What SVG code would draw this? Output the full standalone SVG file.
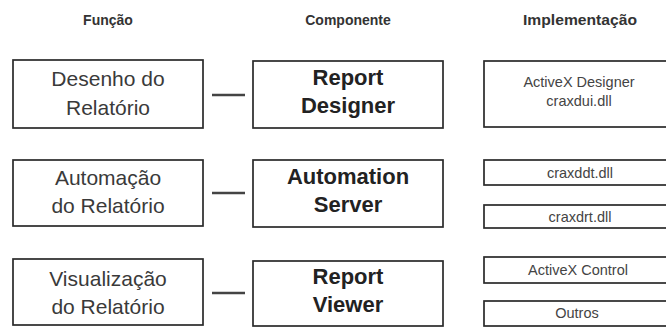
<svg xmlns="http://www.w3.org/2000/svg" width="666" height="327" viewBox="0 0 666 327">
<style>
.bx{fill:#fff;stroke:#2a2a2a;stroke-width:1.7}
.hd{font-family:"Liberation Sans",Arial,sans-serif;font-weight:bold;font-size:14px;fill:#333;text-anchor:middle}
.fn{font-family:"Liberation Sans",Arial,sans-serif;font-size:21px;fill:#3a3a3a;text-anchor:middle}
.cp{font-family:"Liberation Sans",Arial,sans-serif;font-weight:bold;font-size:22px;fill:#222;text-anchor:middle}
.im{font-family:"Liberation Sans",Arial,sans-serif;font-size:14.5px;fill:#444;text-anchor:middle}
.ln{stroke:#444;stroke-width:2.5}
</style>
<rect width="666" height="327" fill="#fff"/>
<g id="headers">
<text class="hd" x="108" y="25">Função</text>
<text class="hd" x="348" y="25">Componente</text>
<text class="hd" x="580" y="25" textLength="114" lengthAdjust="spacingAndGlyphs">Implementação</text>
</g>
<g id="fn1"><rect class="bx" x="13" y="60" width="190" height="68"/><text class="fn" x="108" y="86">Desenho do</text><text class="fn" x="108" y="115">Relatório</text></g>
<g id="cp1"><rect class="bx" x="253" y="61" width="190" height="67"/><text class="cp" x="348" y="85">Report</text><text class="cp" x="348" y="113">Designer</text></g>
<g id="im1"><rect class="bx" x="484" y="61" width="190" height="66"/><text class="im" x="579" y="87">ActiveX Designer</text><text class="im" x="579" y="106">craxdui.dll</text></g>
<g id="fn2"><rect class="bx" x="13" y="160" width="190" height="66"/><text class="fn" x="108" y="185">Automação</text><text class="fn" x="108" y="213">do Relatório</text></g>
<g id="cp2"><rect class="bx" x="253" y="160" width="190" height="67"/><text class="cp" x="348" y="184">Automation</text><text class="cp" x="348" y="212">Server</text></g>
<g id="im2a"><rect class="bx" x="484" y="160" width="190" height="25"/><text class="im" x="580" y="178">craxddt.dll</text></g>
<g id="im2b"><rect class="bx" x="484" y="205" width="190" height="23"/><text class="im" x="580" y="222">craxdrt.dll</text></g>
<g id="fn3"><rect class="bx" x="13" y="259" width="190" height="66"/><text class="fn" x="108" y="286">Visualização</text><text class="fn" x="108" y="314">do Relatório</text></g>
<g id="cp3"><rect class="bx" x="253" y="261" width="190" height="65"/><text class="cp" x="348" y="284">Report</text><text class="cp" x="348" y="312">Viewer</text></g>
<g id="im3a"><rect class="bx" x="484" y="257" width="190" height="26"/><text class="im" x="578" y="275">ActiveX Control</text></g>
<g id="im3b"><rect class="bx" x="484" y="301" width="190" height="25"/><text class="im" x="577" y="318">Outros</text></g>
<g id="connectors">
<line class="ln" x1="212" y1="95" x2="245" y2="95"/>
<line class="ln" x1="212" y1="193" x2="245" y2="193"/>
<line class="ln" x1="212" y1="293" x2="245" y2="293"/>
</g>
</svg>
